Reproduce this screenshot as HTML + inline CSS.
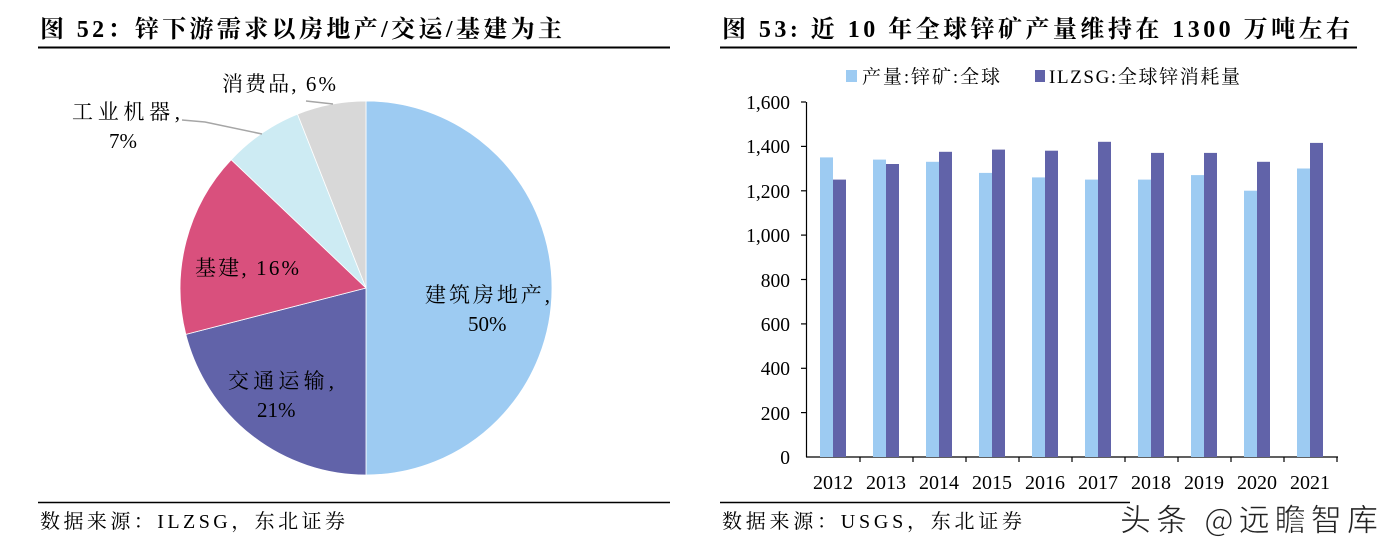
<!DOCTYPE html>
<html><head><meta charset="utf-8"><style>
html,body{margin:0;padding:0;background:#fff}
svg{display:block}
.s{font-family:"Liberation Serif","Noto Serif CJK SC","Noto Sans CJK SC",serif}
</style></head><body>
<svg width="1389" height="548" viewBox="0 0 1389 548" xmlns="http://www.w3.org/2000/svg" class="s">
<!-- Left panel -->
<text x="40" y="37" font-size="24" font-weight="bold" fill="#000" letter-spacing="3" textLength="525" lengthAdjust="spacing">图 52：锌下游需求以房地产/交运/基建为主</text>
<line x1="38" y1="47.5" x2="670" y2="47.5" stroke="#000" stroke-width="2"/>
<line x1="38" y1="502.5" x2="670" y2="502.5" stroke="#000" stroke-width="1.5"/>
<text x="40" y="528" font-size="20" fill="#000" textLength="305" lengthAdjust="spacing">数据来源：ILZSG，东北证券</text>

<g stroke="#fff" stroke-width="0.8">
<path d="M366,288 L366,101 A186,187 0 0 1 366,475 Z" fill="#9dcbf2"/>
<path d="M366,288 L366,475 A186,187 0 0 1 185.8,334.4 Z" fill="#6163a9"/>
<path d="M366,288 L185.8,334.4 A186,187 0 0 1 231.2,159.7 Z" fill="#d9507d"/>
<path d="M366,288 L231.2,159.7 A186,187 0 0 1 297.5,114.1 Z" fill="#cdebf3"/>
<path d="M366,288 L297.5,114.1 A186,187 0 0 1 366,101 Z" fill="#d8d8d8"/>
</g>
<polyline points="182,120 205,122 262,134" fill="none" stroke="#a6a6a6" stroke-width="1.5"/>
<polyline points="306,101 333,104" fill="none" stroke="#a6a6a6" stroke-width="1.5"/>
<g font-size="21" fill="#000">
<text x="425" y="302" textLength="125" lengthAdjust="spacing">建筑房地产,</text>
<text x="468" y="331">50%</text>
<text x="228" y="388" textLength="106" lengthAdjust="spacing">交通运输,</text>
<text x="257" y="417">21%</text>
<text x="195" y="275" textLength="104" lengthAdjust="spacing">基建, 16%</text>
<text x="72" y="119" textLength="108" lengthAdjust="spacing">工业机器,</text>
<text x="109" y="148">7%</text>
<text x="222" y="91" textLength="114" lengthAdjust="spacing">消费品, 6%</text>
</g>

<!-- Right panel -->
<text x="722" y="37" font-size="24" font-weight="bold" fill="#000" textLength="628" lengthAdjust="spacing">图 53:  近 10 年全球锌矿产量维持在 1300 万吨左右</text>
<line x1="720" y1="47.5" x2="1357" y2="47.5" stroke="#000" stroke-width="2"/>
<line x1="720" y1="502.5" x2="1130" y2="502.5" stroke="#000" stroke-width="1.5"/>
<text x="722" y="528" font-size="20" fill="#000" textLength="300" lengthAdjust="spacing">数据来源：USGS，东北证券</text>

<rect x="846" y="70" width="11" height="12" fill="#9dcbf2"/>
<text x="862" y="83" font-size="19" fill="#000" textLength="138" lengthAdjust="spacing">产量:锌矿:全球</text>
<rect x="1035" y="70" width="10" height="12" fill="#6163a9"/>
<text x="1049" y="83" font-size="19" fill="#000" textLength="191" lengthAdjust="spacing">ILZSG:全球锌消耗量</text>

<g font-size="19.5" fill="#000" text-anchor="end">
<text x="790" y="109">1,600</text>
<text x="790" y="153">1,400</text>
<text x="790" y="198">1,200</text>
<text x="790" y="242">1,000</text>
<text x="790" y="287">800</text>
<text x="790" y="331">600</text>
<text x="790" y="375">400</text>
<text x="790" y="420">200</text>
<text x="790" y="464">0</text>
</g>
<g stroke="#000" stroke-width="1.2">
<line x1="806.5" y1="102" x2="806.5" y2="457"/>
<line x1="806" y1="457" x2="1338" y2="457"/>
<line x1="801" y1="102" x2="806" y2="102"/><line x1="801" y1="146.4" x2="806" y2="146.4"/>
<line x1="801" y1="190.8" x2="806" y2="190.8"/><line x1="801" y1="235.1" x2="806" y2="235.1"/>
<line x1="801" y1="279.5" x2="806" y2="279.5"/><line x1="801" y1="323.9" x2="806" y2="323.9"/>
<line x1="801" y1="368.3" x2="806" y2="368.3"/><line x1="801" y1="412.6" x2="806" y2="412.6"/>
<line x1="860" y1="457" x2="860" y2="462"/><line x1="913" y1="457" x2="913" y2="462"/>
<line x1="966" y1="457" x2="966" y2="462"/><line x1="1019" y1="457" x2="1019" y2="462"/>
<line x1="1072" y1="457" x2="1072" y2="462"/><line x1="1125" y1="457" x2="1125" y2="462"/>
<line x1="1178" y1="457" x2="1178" y2="462"/><line x1="1231" y1="457" x2="1231" y2="462"/>
<line x1="1284" y1="457" x2="1284" y2="462"/><line x1="1337" y1="457" x2="1337" y2="462"/>
</g>
<g fill="#9dcbf2">
<rect x="820" y="157.4" width="13" height="299.6"/>
<rect x="873" y="159.6" width="13" height="297.4"/>
<rect x="926" y="161.8" width="13" height="295.2"/>
<rect x="979" y="172.9" width="13" height="284.1"/>
<rect x="1032" y="177.4" width="13" height="279.6"/>
<rect x="1085" y="179.6" width="13" height="277.4"/>
<rect x="1138" y="179.6" width="13" height="277.4"/>
<rect x="1191" y="175.1" width="13" height="281.9"/>
<rect x="1244" y="190.7" width="13" height="266.3"/>
<rect x="1297" y="168.5" width="13" height="288.5"/>
</g>
<g fill="#6163a9">
<rect x="833" y="179.6" width="13" height="277.4"/>
<rect x="886" y="164.0" width="13" height="293.0"/>
<rect x="939" y="151.8" width="13" height="305.2"/>
<rect x="992" y="149.6" width="13" height="307.4"/>
<rect x="1045" y="150.7" width="13" height="306.3"/>
<rect x="1098" y="141.8" width="13" height="315.2"/>
<rect x="1151" y="152.9" width="13" height="304.1"/>
<rect x="1204" y="152.9" width="13" height="304.1"/>
<rect x="1257" y="161.8" width="13" height="295.2"/>
<rect x="1310" y="142.9" width="13" height="314.1"/>
</g>
<g font-size="20" fill="#000" text-anchor="middle">
<text x="833" y="489">2012</text><text x="886" y="489">2013</text>
<text x="939" y="489">2014</text><text x="992" y="489">2015</text>
<text x="1045" y="489">2016</text><text x="1098" y="489">2017</text>
<text x="1151" y="489">2018</text><text x="1204" y="489">2019</text>
<text x="1257" y="489">2020</text><text x="1310" y="489">2021</text>
</g>
<text x="1120" y="531" font-size="31" fill="#222" stroke="#fff" stroke-width="0.6" textLength="258" lengthAdjust="spacing" font-family="'Noto Sans CJK SC','WenQuanYi Zen Hei',sans-serif">头条 @远瞻智库</text>
</svg>
</body></html>
